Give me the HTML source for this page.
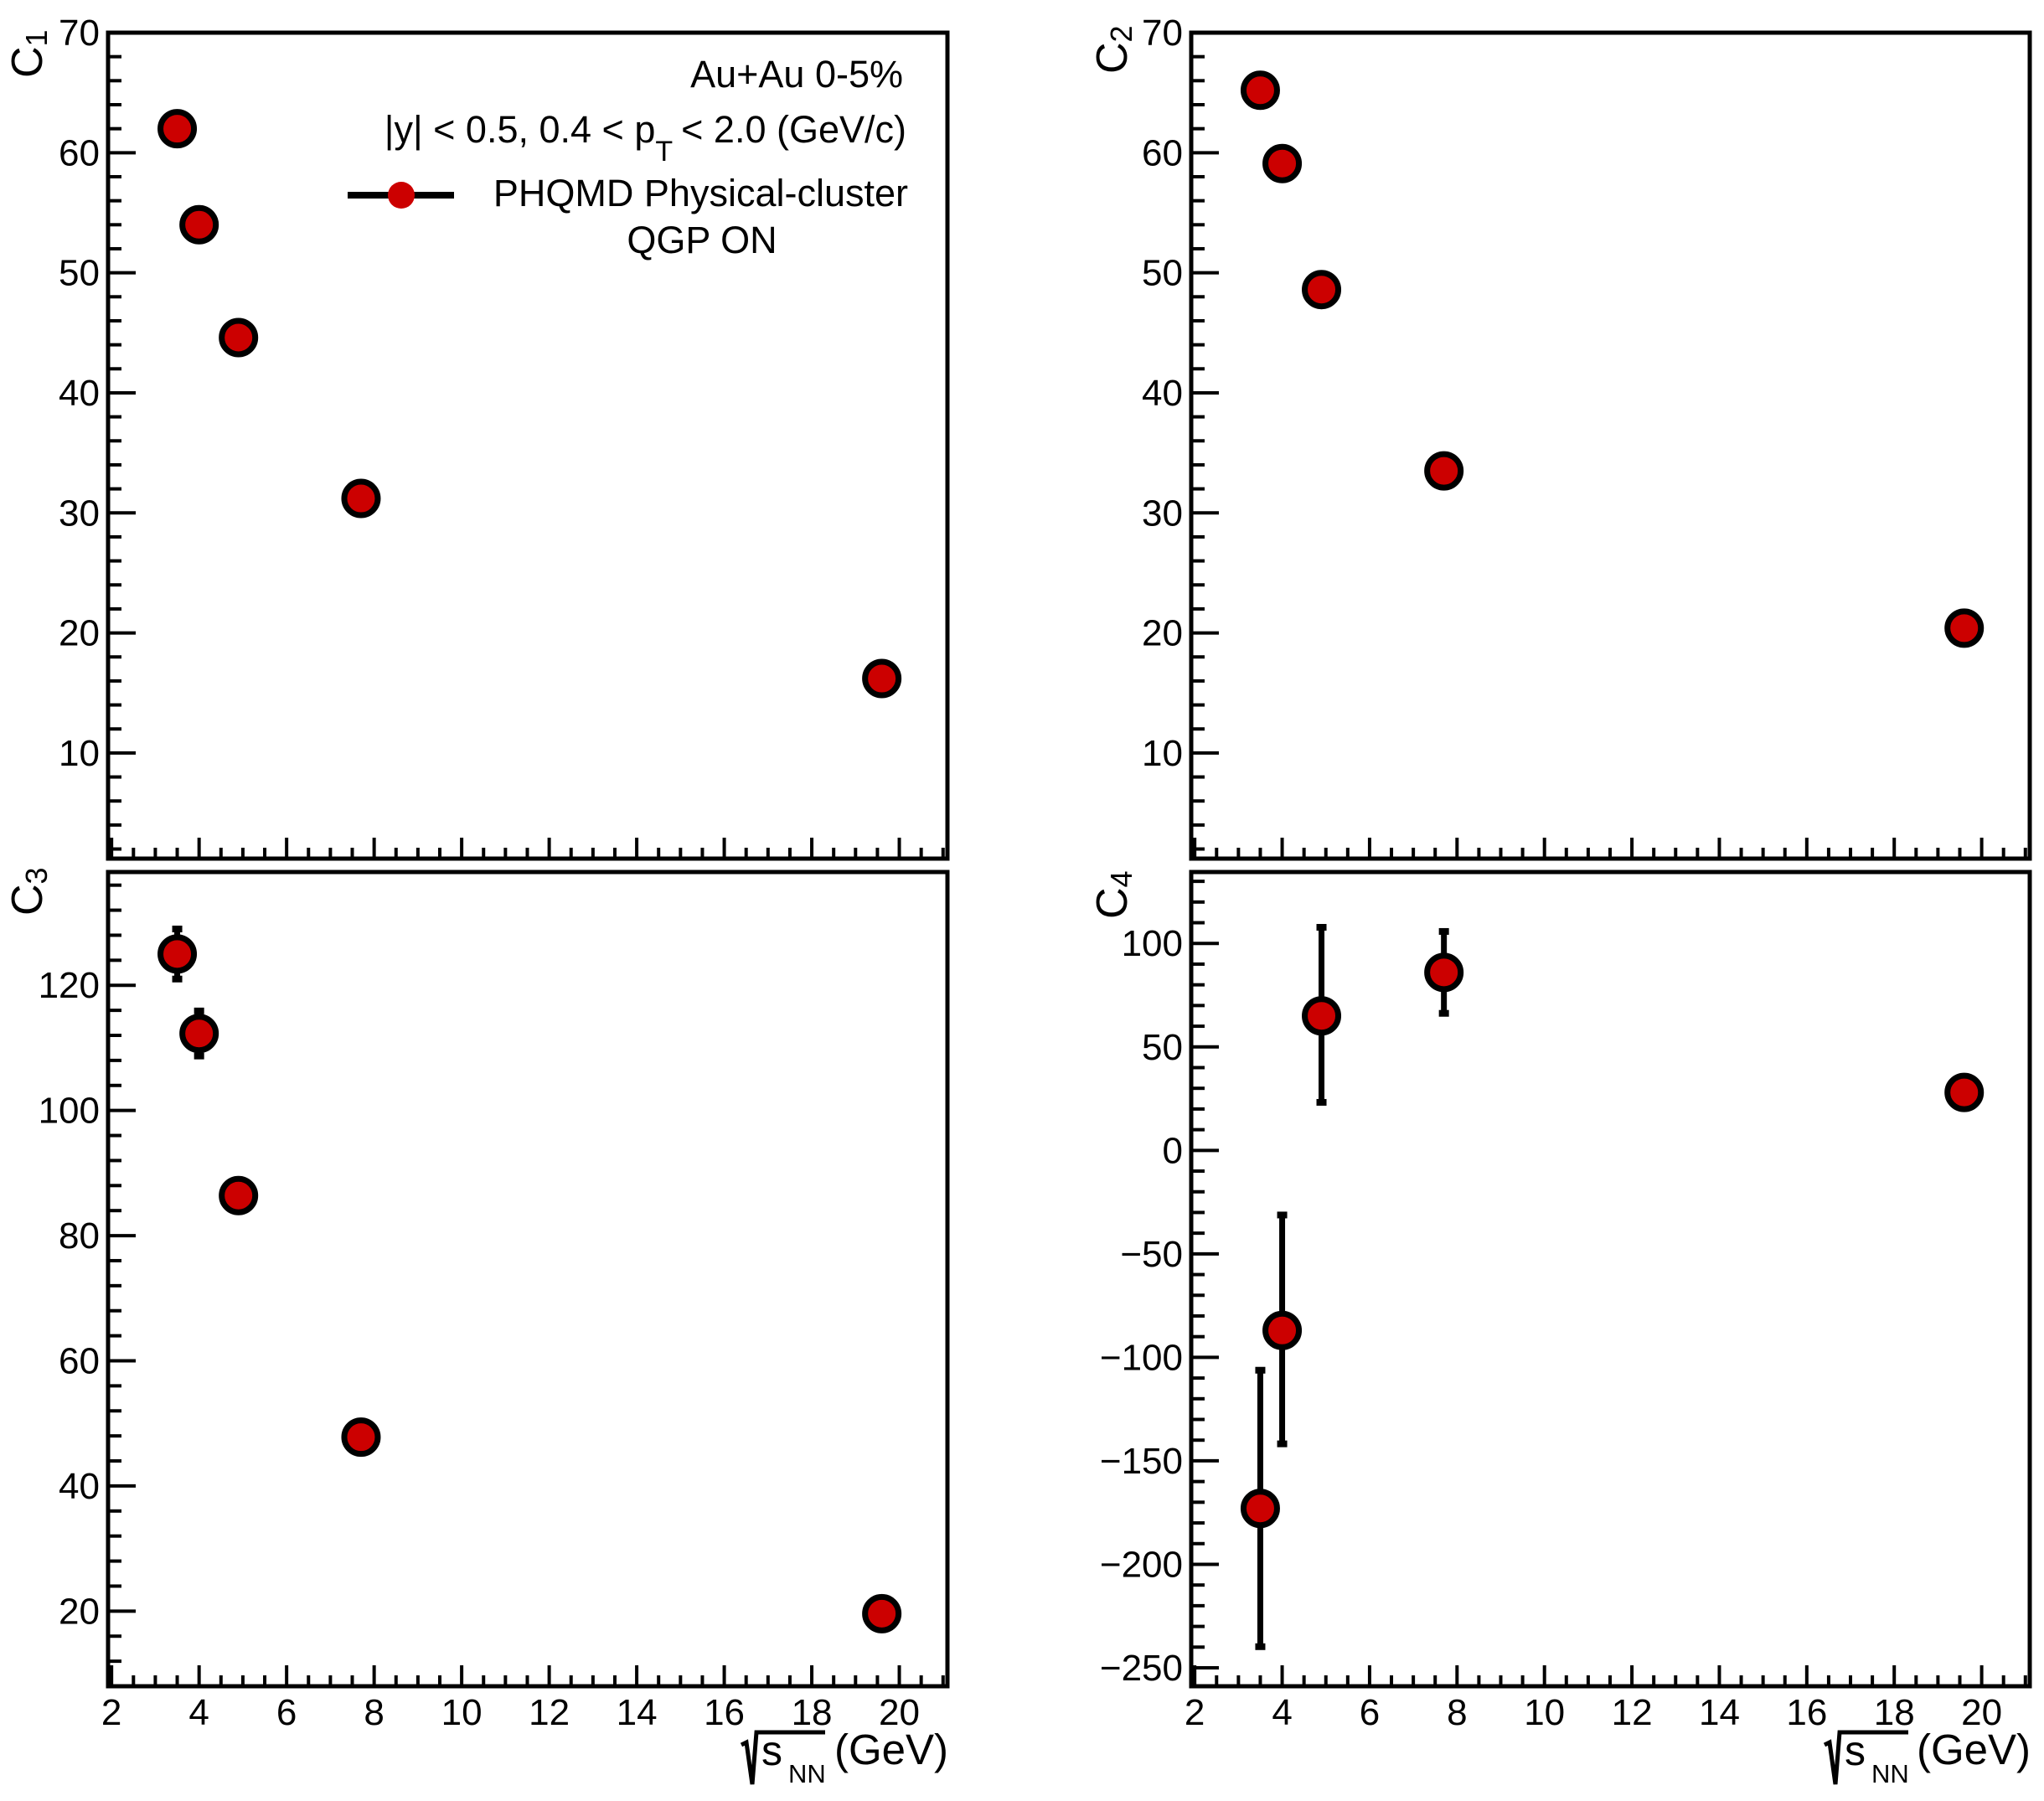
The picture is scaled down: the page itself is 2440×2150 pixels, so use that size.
<!DOCTYPE html>
<html><head><meta charset="utf-8"><style>
html,body{margin:0;padding:0;background:#fff;}
svg{display:block;font-family:"Liberation Sans",Arial,sans-serif;}
</style></head><body>
<svg id="chart" width="2440" height="2150" viewBox="0 0 2440 2150" xmlns="http://www.w3.org/2000/svg">
<rect width="2440" height="2150" fill="#fff"/>
</svg>
<script>
// ---- data ----
const energies = [3.5, 4.0, 4.9, 7.7, 19.6];
const c1Values = [62.0, 54.0, 44.6, 31.2, 16.2];
const c2Values = [65.2, 59.1, 48.6, 33.5, 20.4];
const c3Values = [125.0, 112.3, 86.4, 47.8, 19.6];
const c3Errors = [4.4, 4.0, 2.5, 1.0, 1.0];
const c4Values = [-173, -87, 65, 86, 28];
const c4ErrLow = [68, 56, 43, 21, 0];
const c4ErrHigh = [68, 57, 44, 21, 0];
const xTickLabels = [2, 4, 6, 8, 10, 12, 14, 16, 18, 20];
const c1TickLabels = [10, 20, 30, 40, 50, 60, 70];
const c3TickLabels = [20, 40, 60, 80, 100, 120];
const c4TickLabels = [-250, -200, -150, -100, -50, 0, 50, 100];

const NS = "http://www.w3.org/2000/svg";
const svg = document.getElementById('chart');
function mk(tag, attrs, parent) {
  const e = document.createElementNS(NS, tag);
  for (const k in attrs) e.setAttribute(k, attrs[k]);
  (parent || svg).appendChild(e);
  return e;
}
const XMIN = 1.92, XMAX = 21.1;
const panels = [
  {id:'c1', l:129, t:39, r:1131, b:1025, ymin:1.2, ymax:70, vals:c1Values, lo:null, hi:null, ticks:c1TickLabels, major:10, minor:2, sub:'1', showX:false, tx:50, ty:93},
  {id:'c2', l:1422, t:39, r:2423, b:1025, ymin:1.2, ymax:70, vals:c2Values, lo:null, hi:null, ticks:c1TickLabels, major:10, minor:2, sub:'2', showX:false, tx:1345, ty:88},
  {id:'c3', l:129, t:1041, r:1131, b:2013, ymin:8.0, ymax:138.1, vals:c3Values, lo:c3Errors, hi:c3Errors, ticks:c3TickLabels, major:20, minor:4, sub:'3', showX:true, tx:50, ty:1093},
  {id:'c4', l:1422, t:1041, r:2423, b:2013, ymin:-258.9, ymax:134.5, vals:c4Values, lo:c4ErrLow, hi:c4ErrHigh, ticks:c4TickLabels, major:50, minor:10, sub:'4', showX:true, tx:1345, ty:1097}
];
panels.forEach(p => {
  const g = mk('g', {});
  
  
  const X = v => p.l + (v - XMIN) / (XMAX - XMIN) * (p.r - p.l);
  const Y = v => p.b - (v - p.ymin) / (p.ymax - p.ymin) * (p.b - p.t);
  const fr = mk('rect', {x:p.l, y:p.t, width:p.r-p.l, height:p.b-p.t, fill:'none', stroke:'#000', 'stroke-width':5}, g);
  
  
  const xg = mk('g', {}, g);
  
  
  for (let v = 2; v <= XMAX + 1e-9; v += 0.5) {
    const isMaj = Math.abs(v / 2 - Math.round(v / 2)) < 1e-6;
    mk('line', {x1:X(v), x2:X(v), y1:p.b, y2:p.b - (isMaj ? 25 : 13), stroke:'#000', 'stroke-width':4}, xg);
  }
  if (p.showX) {
    xTickLabels.forEach(v => {
      const t = mk('text', {x:X(v), y:p.b + 46, 'text-anchor':'middle', 'font-size':44, fill:'#000'}, xg);
      t.textContent = v;
      
      
    });
    const xt = mk('g', {}, g);
    
    
    const o = p.l - 129;
    mk('path', {d:`M${885+o} 2083 L${891+o} 2080 L${898+o} 2130 L${903+o} 2068 L${985+o} 2068`, fill:'none', stroke:'#000', 'stroke-width':5}, xt);
    const s = mk('text', {x:909+o, y:2107, 'font-size':50, fill:'#000'}, xt); s.textContent = 's';
    const nn = mk('text', {x:941+o, y:2128, 'font-size':31, fill:'#000'}, xt); nn.textContent = 'NN';
    const gv = mk('text', {x:p.r + 1, y:2106, 'font-size':51, 'text-anchor':'end', fill:'#000'}, xt); gv.textContent = '(GeV)';
  }
  const yg = mk('g', {}, g);
  
  
  const start = Math.ceil(p.ymin / p.minor) * p.minor;
  for (let v = start; v <= p.ymax + 1e-9; v += p.minor) {
    const isMaj = Math.abs(v / p.major - Math.round(v / p.major)) < 1e-6;
    mk('line', {x1:p.l, x2:p.l + (isMaj ? 33 : 16), y1:Y(v), y2:Y(v), stroke:'#000', 'stroke-width':4}, yg);
  }
  p.ticks.forEach(v => {
    const t = mk('text', {x:p.l - 10, y:Y(v) + 15, 'text-anchor':'end', 'font-size':44, fill:'#000'}, yg);
    t.textContent = v < 0 ? '\u2212' + Math.abs(v) : v;
    
    
  });
  const yt = mk('text', {transform:`translate(${p.tx},${p.ty}) rotate(-90)`, 'font-size':52, fill:'#000'}, g);
  
  
  yt.appendChild(document.createTextNode('C'));
  const sb = mk('tspan', {y:6, 'font-size':36}, yt);
  sb.textContent = p.sub;
  const dg = mk('g', {}, g);
  
  
  energies.forEach((e, i) => {
    const cx = X(e), cy = Y(p.vals[i]);
    if (p.lo && (p.lo[i] > 0 || p.hi[i] > 0)) {
      const y1 = Y(p.vals[i] + p.hi[i]), y2 = Y(p.vals[i] - p.lo[i]);
      const eb = mk('g', {}, dg);
      
      
      mk('line', {x1:cx, x2:cx, y1:y1, y2:y2, stroke:'#000', 'stroke-width':7}, eb);
      mk('rect', {x:cx - 6, y:y1 - 1, width:12, height:8, fill:'#000'}, eb);
      mk('rect', {x:cx - 6, y:y2 - 7, width:12, height:8, fill:'#000'}, eb);
    }
    const c = mk('circle', {cx:cx, cy:cy, r:20, fill:'#cc0000', stroke:'#000', 'stroke-width':7}, dg);
    
    
  });
});
// legend
const lg = mk('g', {});


function ltext(str, x, y, anchor, name) {
  const t = mk('text', {x:x, y:y, 'text-anchor':anchor, 'font-size':45, fill:'#000'}, lg);
  t.textContent = str;
  
  
  return t;
}
ltext('Au+Au 0-5%', 1078, 104, 'end', 'legend-system');
const kin = mk('text', {x:1082, y:170, 'text-anchor':'end', 'font-size':45, fill:'#000'}, lg);


kin.appendChild(document.createTextNode('|y| < 0.5, 0.4 < p'));
const ts = mk('tspan', {dy:22, 'font-size':34}, kin); ts.textContent = 'T';
const rest = mk('tspan', {dy:-22, dx:10}, kin); rest.textContent = '< 2.0 (GeV/c)';
mk('line', {x1:415, x2:542, y1:233, y2:233, stroke:'#000', 'stroke-width':8}, lg);
mk('circle', {cx:479, cy:233, r:16, fill:'#cc0000'}, lg);
ltext('PHQMD Physical-cluster', 1084, 246, 'end', 'legend-entry-phqmd');
ltext('QGP ON', 838, 302, 'middle', 'legend-entry-qgp');
</script>
</body></html>
